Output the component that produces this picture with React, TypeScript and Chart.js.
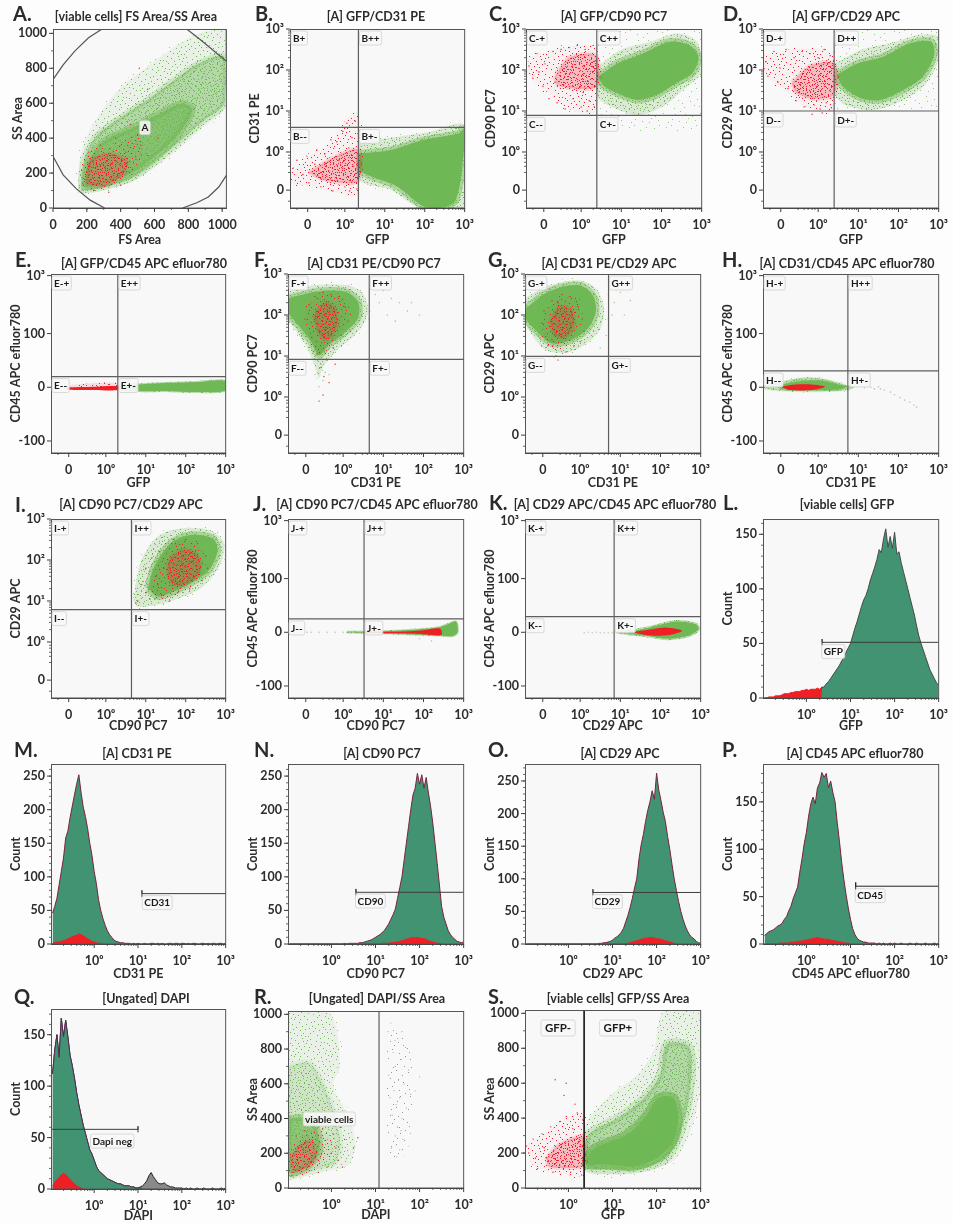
import React, { useEffect, useRef } from "react";
import { Chart, registerables } from "chart.js";
Chart.register(...registerables);

type Pt = number[];
// ---------- Histogram bins (log10 of fluorescence) ----------
const BINS = [-0.95,-0.9,-0.85,-0.8,-0.75,-0.7,-0.65,-0.6,-0.55,-0.5,-0.45,-0.4,-0.35,-0.3,-0.25,-0.2,-0.15,-0.1,-0.05,0,0.05,0.1,0.15,0.2,0.25,0.3,0.35,0.4,0.45,0.5,0.55,0.6,0.65,0.7,0.75,0.8,0.85,0.9,0.95,1,1.05,1.1,1.15,1.2,1.25,1.3,1.35,1.4,1.45,1.5,1.55,1.6,1.65,1.7,1.75,1.8,1.85,1.9,1.95,2,2.05,2.1,2.15,2.2,2.25,2.3,2.35,2.4,2.45,2.5,2.55,2.6,2.65,2.7,2.75,2.8,2.85,2.9,2.95,3];
const L_GREEN = [0,0,0,0,0,0,0,0,0,0,0,0,0,0,0,0,0,0,0,0,0,0,0,0,0,0,10,10,13,15,18,21,24,27,30,34,37,42,46,50,57,64,70,77,84,90,94,100,108,114,120,127,136,133,146,155,138,148,137,152,132,134,124,116,108,100,92,84,76,66,57,50,44,38,32,26,22,18,14,12];
const L_RED = [0,0,1,1,1,2,2,2,3,4,4,4,5,5,6,6,6,7,7,8,7,8,8,8,9,8,10];
const M_GREEN = [46,56,68,88,108,128,158,168,188,205,222,238,252,226,204,190,172,150,132,108,90,66,50,38,28,20,14,10,6,4,3,2,2,1,1,1,0,1,0,1,0,0,1,0,0,1,1,0,1,0,1,0,0,1,1,0,1,1,0,1,1,0,1,0,1,1,0,0,1,1,0,1,0,1,1,0,1,1,0,1];
const M_RED = [1,2,3,3,4,5,6,8,9,11,12,13,15,14,12,10,8,6,4,3,2,1,1,0];
const N_GREEN = [0,0,0,0,0,0,0,0,0,0,0,0,0,0,0,0,0,0,0,0,0,0,0,0,0,1,0,1,1,1,1,1,2,2,3,4,5,6,8,10,12,14,17,20,25,30,37,44,52,68,84,100,125,150,175,200,222,232,254,238,252,232,248,225,205,180,150,120,88,56,40,30,20,14,10,7,4,3,2,3];
const N_RED = [0,0,0,0,0,0,0,0,0,0,0,0,0,0,0,0,0,0,0,0,0,0,0,0,0,0,0,0,0,0,0,0,0,0,0,0,0,0,0,0,0,0,1,1,1,1,2,2,3,3,4,5,6,7,8,9,10,9,10,9,8,8,7,5,4,3,2,1,1,0];
const O_GREEN = [0,0,0,0,0,0,0,0,0,0,0,0,0,0,0,0,0,0,0,0,0,0,0,0,0,0,0,0,0,0,0,0,0,1,1,2,2,3,4,6,9,11,14,18,24,34,44,56,70,86,100,130,152,168,188,205,218,235,222,262,236,220,202,188,165,145,122,100,82,65,50,38,28,20,14,10,8,4,2,1];
const O_RED = [0,0,0,0,0,0,0,0,0,0,0,0,0,0,0,0,0,0,0,0,0,0,0,0,0,0,0,0,0,0,0,0,0,0,0,0,0,0,0,0,0,0,0,0,0,1,1,2,3,4,5,6,7,8,9,9,10,10,9,8,8,7,6,5,4,3,2,1,0];
const P_GREEN = [9,11,13,14,15,17,19,20,22,26,29,35,40,48,54,60,76,90,106,118,135,148,155,148,165,170,181,176,180,165,172,160,150,128,108,86,68,52,38,26,16,10,6,4,3,2,2,1,1,1,1,0,1,0,1,0,0,1,0,1,0,0,1,0,0,0,1,0,0,1,0,0,0,1,0,0,0,1,0,1];
const P_RED = [0,0,0,0,0,0,0,1,1,1,1,1,2,2,2,3,3,3,4,4,5,5,6,6,7,6,6,5,5,5,4,4,3,3,2,2,1,1,1,0];
const Q_TOTAL = [112,135,150,128,166,148,164,148,130,120,108,94,82,72,62,54,46,38,34,28,22,18,16,14,12,10,9,8,7,6,5,5,4,3,3,3,2,2,1,1,2,3,5,8,13,16,12,9,6,5,5,6,4,3,2,2,1,1,1,1,0,1,0,1,0,0,1,0,0,1,0,0,0,1,0,0,0,1,0,1];
const Q_GREEN = [112,135,150,128,166,148,164,148,130,120,108,94,82,72,62,54,46,38,34,28,22,18,16,14,12,10,9,8,7,6,5,5,4,3,3,3,2,2,1,1,1,0];
const Q_RED = [3,6,9,11,14,15,14,12,9,7,5,3,2,1,0];

// ---------- Population outlines ----------
const A_GATE_TL: Pt[] = [[0,735],[60,820],[130,900],[210,975],[290,1025]];
const A_GATE_TR: Pt[] = [[790,1025],[870,965],[950,900],[1025,840]];
const A_GATE_BL: Pt[] = [[0,296],[60,190],[137,111],[220,45],[305,0]];
const A_GATE_BR: Pt[] = [[766,0],[850,30],[918,63],[980,120],[1025,187]];
const A_EDGE: Pt[] = [[1023,1025],[1023,840]];
const A_OUTER: Pt[] = [[147,82],[270,97],[461,149],[594,226],[747,340],[880,455],[1025,589],[1025,1025],[861,1000],[690,904],[518,780],[404,694],[270,532],[198,407],[156,273]];
const A_MID: Pt[] = [[166,98],[270,111],[461,168],[594,254],[747,379],[880,493],[1013,598],[1013,866],[861,828],[728,742],[556,618],[404,522],[270,426],[204,331],[171,216]];
const A_CORE: Pt[] = [[185,120],[270,130],[461,197],[594,289],[728,407],[823,560],[766,598],[632,541],[461,455],[309,388],[213,273]];
const A_RED_OUTER: Pt[] = [[175,130],[290,115],[420,170],[530,300],[500,430],[380,360],[250,330],[180,240]];
const A_RED_DENSE: Pt[] = [[195,140],[300,125],[420,200],[440,270],[330,310],[220,270]];
const A_RED_POINTS: Pt[] = [[180,130],[210,320],[240,100],[280,360],[330,90],[370,400],[400,130],[430,320],[470,220],[500,420],[520,360],[560,300],[460,480],[560,680],[510,800],[620,400],[350,250],[260,240],[300,150],[490,280],[540,440],[410,240]];

const B_OUTER: Pt[] = [[.36,.25],[1.317,.374],[2.13,.496],[3,.65],[3,-1.37],[1.886,-1.37],[1.154,-.93],[.36,-.68]];
const B_CORE: Pt[] = [[.382,-.033],[1.154,.05],[1.967,.29],[2.86,.455],[3,.58],[3,.2],[2.78,-1.17],[2.374,-1.37],[1.967,-1.33],[1.317,-.846],[.667,-.6],[.382,-.44]];
const B_RED_OUTER: Pt[] = [[-1.37,-.55],[-.9,-.1],[-.4,.2],[0,.75],[.34,.95],[.34,-1],[-.2,-1],[-.8,-.85],[-1.37,-.75]];
const B_RED_DENSE: Pt[] = [[-.9,-.5],[-.5,-.25],[-.1,-.05],[.34,.05],[.34,-.7],[-.1,-.75],[-.6,-.65]];
const B_RED_POINTS: Pt[] = [[-1.3,-.4],[-1.2,-.2],[-1.05,-.55],[-.95,-.1],[-.9,-.75],[-.75,-.3],[-.7,.05],[-.6,-.85],[-.5,-.05],[-.45,-.6],[-.35,.3],[-.3,-.95],[-.2,.25],[-.15,-.2],[-.05,.5],[0,-.85],[.05,.7],[.1,.1],[.12,-.95],[.18,.35],[.22,-.35],[.26,.75],[.3,-.9],[.33,.45],[-1.36,-.3],[-1.36,-.5]];

const C_TRACE: Pt[] = [[.39,3],[3,3],[3,.55],[1.5,.45],[.39,.6]];
const C_OUTER: Pt[] = [[.41,2.08],[.98,2.49],[1.72,2.69],[2.37,2.89],[2.85,2.73],[3,2.33],[3,1.92],[2.53,1.51],[2.04,1.11],[1.39,.9],[.74,1.11],[.41,1.35]];
const C_CORE: Pt[] = [[.43,1.84],[.9,2.16],[1.55,2.41],[2.2,2.69],[2.69,2.61],[2.92,2.33],[2.77,1.92],[2.37,1.68],[1.88,1.39],[1.39,1.27],[.9,1.43],[.54,1.63]];
const C_RED_OUTER: Pt[] = [[-1.3,2.3],[-.7,2.5],[0,2.6],[.37,2.55],[.37,1],[-.3,1.05],[-.9,1.5],[-1.3,1.9]];
const C_RED_DENSE: Pt[] = [[-.65,1.85],[-.3,2.3],[.37,2.35],[.37,1.6],[-.2,1.55],[-.6,1.65]];
const C_RED_POINTS: Pt[] = [[-1.3,2.1],[-1.2,1.8],[-1.1,2.4],[-.95,1.6],[-.9,2.15],[-.8,1.3],[-.7,2.45],[-.6,1.2],[-.5,2.5],[-.4,1.05],[-.3,2.55],[-.2,1.3],[-.1,2.6],[0,1.1],[.05,1.45],[.1,2.5],[.15,1],[.2,1.25],[.3,2.6],[.33,1.1],[-1.05,1.95],[-.65,1.7],[-.2,1.6],[-1.36,1.95],[-1.36,2.2]];

const D_TRACE: Pt[] = [[.4,3],[3,3],[3,1],[.4,1]];
const D_OUTER: Pt[] = [[.41,2.16],[1.07,2.49],[1.8,2.65],[2.45,2.85],[2.98,2.81],[3,2.24],[2.61,1.59],[1.96,1.19],[1.31,1.02],[.66,1.15],[.41,1.43]];
const D_CORE: Pt[] = [[.455,1.88],[.98,2.16],[1.63,2.33],[2.28,2.65],[2.81,2.69],[2.89,2.37],[2.61,1.84],[2.12,1.51],[1.55,1.27],[1.07,1.31],[.62,1.59]];
const D_RED_OUTER: Pt[] = [[-1.35,2.3],[-.7,2.5],[.39,2.4],[.39,1.05],[-.2,1.05],[-.7,1.4],[-1.3,1.9]];
const D_RED_DENSE: Pt[] = [[-.65,1.7],[-.2,2.1],[.39,2.15],[.39,1.4],[-.1,1.3],[-.55,1.45]];
const D_RED_POINTS: Pt[] = [[-1.3,2.2],[-1.25,1.85],[-1.1,2.45],[-1,1.7],[-.95,2.05],[-.8,2.5],[-.75,1.55],[-.6,2.3],[-.55,1.25],[-.4,2.45],[-.35,1.1],[-.2,2.4],[-.1,1.15],[0,2.3],[.05,1.05],[.15,2.5],[.2,1.2],[.3,2.35],[.33,1.08],[.1,.95],[-1.36,2.35],[-1.36,2],[-.15,.92]];

const E_PALE: Pt[] = [[.3,.03],[.7,.06],[.7,-.07],[.3,-.04]];
const E_CORE: Pt[] = [[.7,.05],[1.5,.08],[2.3,.1],[3,.12],[3,-.06],[2.3,-.09],[1.5,-.07],[.7,-.06]];
const E_RED_PINK: Pt[] = [[-.9,.04],[-.3,.08],[.3,.08],[.3,0],[-.9,0]];
const E_RED: Pt[] = [[-.98,0],[-.3,.01],[.3,.02],[.3,-.05],[-.3,-.05],[-.98,-.04]];

const F_OUTER: Pt[] = [[-1.37,2.57],[-.68,2.73],[.05,2.73],[.455,2.57],[.62,2.16],[.5,1.76],[.21,1.43],[-.2,1.1],[-.52,.7],[-.6,.455],[-.72,.78],[-.89,1.19],[-1.17,1.59],[-1.37,1.92]];
const F_CORE: Pt[] = [[-1.37,2.41],[-.68,2.57],[.05,2.57],[.37,2.33],[.37,1.92],[-.03,1.51],[-.36,1.27],[-.6,1.02],[-.8,1.35],[-1.09,1.72],[-1.37,2.08]];
const F_RED_OUTER: Pt[] = [[-.95,2.2],[-.5,2.5],[-.05,2.4],[.13,1.95],[-.2,1.4],[-.55,1],[-.72,1.2],[-.9,1.7]];
const F_RED_DENSE: Pt[] = [[-.72,2],[-.45,2.3],[-.2,2.15],[-.15,1.75],[-.4,1.4],[-.6,1.55]];
const F_RED_POINTS: Pt[] = [[-.95,1.9],[-.85,2.25],[-.78,1.45],[-.7,2.45],[-.65,1.05],[-.55,.72],[-.5,2.55],[-.48,.5],[-.4,.9],[-.3,2.5],[-.25,1.2],[-.1,2.45],[-.05,1.5],[.05,2.2],[.12,1.85],[.18,1.6],[-.35,.35],[-.6,-.1],[-.5,.05],[-.2,.8]];
const F_FAINT: Pt[] = [[.8,2.5],[.9,2.3],[1,2.6],[1.2,2.4],[1.4,2.3],[1.6,2.1],[1.7,2.3],[1.9,2],[1.1,2],[1.3,1.85],[-.5,.4],[-.6,.25],[-.45,.6],[-.7,.55],[-.35,.55],[-.55,.8]];

const G_OUTER: Pt[] = [[-1.37,2.41],[-.87,2.69],[-.06,2.85],[.35,2.69],[.59,2.24],[.51,1.67],[.11,1.27],[-.38,1.07],[-.87,1.15],[-1.2,1.51],[-1.37,1.84]];
const G_CORE: Pt[] = [[-1.36,2.16],[-.79,2.57],[-.06,2.73],[.31,2.49],[.39,2.08],[.19,1.67],[-.22,1.39],[-.71,1.31],[-1.11,1.63],[-1.36,1.92]];
const G_RED_OUTER: Pt[] = [[-.9,2],[-.5,2.4],[-.1,2.4],[0,1.9],[-.2,1.4],[-.5,1.1],[-.8,1.3],[-.95,1.7]];
const G_RED_DENSE: Pt[] = [[-.75,1.85],[-.5,2.2],[-.2,2.1],[-.18,1.7],[-.4,1.45],[-.65,1.55]];
const G_RED_POINTS: Pt[] = [[-.95,1.8],[-.9,2.1],[-.8,1.25],[-.7,2.35],[-.6,1],[-.55,.9],[-.45,2.5],[-.35,1.1],[-.25,2.45],[-.15,1.25],[-.05,2.2],[.05,1.9],[.1,1.6],[-.65,.98],[-.3,1.55],[-.7,1.4],[0,1.35],[-.55,2.3]];
const G_FAINT: Pt[] = [[.7,2.5],[.85,2.3],[1,2.55],[1.1,2],[1.25,2.35],[.7,1.9],[.8,2],[.65,1.5],[.5,1.2]];

const H_OUTER: Pt[] = [[-1.37,.01],[-.97,.09],[-.48,.17],[.01,.17],[.49,.09],[.74,.03],[.9,.01],[.74,-.05],[.25,-.075],[-.56,-.075],[-1.13,-.05],[-1.37,-.02]];
const H_CORE: Pt[] = [[-1,.02],[-.7,.08],[-.3,.12],[.1,.12],[.5,.05],[.7,.01],[.5,-.04],[-.3,-.05],[-.9,-.03]];
const H_RED: Pt[] = [[-.92,.01],[-.56,.05],[-.15,.05],[.17,.01],[-.15,-.05],[-.72,-.05]];
const H_TAIL: Pt[] = [[.95,.02],[1.07,.03],[1.15,-.01],[1.25,.02],[1.31,0],[1.4,-.03],[1.5,.01],[1.55,-.03],[1.65,-.05],[1.8,-.09],[1.9,-.14],[2.04,-.19],[2.15,-.24],[2.28,-.28],[2.38,-.33],[2.45,-.37]];

const I_OUTER: Pt[] = [[.68,1.02],[.89,2],[1.29,2.57],[1.86,2.77],[2.59,2.73],[2.96,2.41],[2.84,1.84],[2.43,1.35],[1.94,1.11],[1.29,.9],[.8,.86]];
const I_CORE: Pt[] = [[1.05,1.31],[1.21,1.84],[1.62,2.41],[2.1,2.61],[2.67,2.53],[2.8,2.24],[2.59,1.76],[2.19,1.47],[1.7,1.23],[1.29,1.11]];
const I_RED_OUTER: Pt[] = [[1.1,1.3],[1.3,1.9],[1.7,2.4],[2.2,2.45],[2.45,2],[2.2,1.5],[1.7,1.1],[1.3,1.05]];
const I_RED_DENSE: Pt[] = [[1.55,1.6],[1.6,2],[1.95,2.25],[2.3,2.1],[2.35,1.7],[2,1.42],[1.7,1.4]];
const I_RED_POINTS: Pt[] = [[.8,1],[.9,1.4],[1,1.2],[1,1.8],[1.1,1.05],[1.15,2.05],[1.25,1.6],[1.35,2.2],[1.4,1.15],[1.5,2.4],[1.6,1],[1.7,2.5],[1.8,1.2],[2,2.5],[2.1,1.3],[2.3,2.4],[2.4,1.5],[2.5,2.1],[2.55,1.8],[1.3,1.4],[1.45,1.8],[.75,.95]];

const J_OUTER: Pt[] = [[.1,.01],[.54,.01],[1.35,.03],[2,.06],[2.41,.1],[2.6,.15],[2.81,.2],[2.85,0],[2.73,-.07],[2.41,-.06],[1.76,-.04],[.54,-.01],[.1,0]];
const J_RED: Pt[] = [[.54,.012],[1.35,.01],[2,.04],[2.41,.07],[2.45,-.05],[2,-.035],[1.35,-.02],[.54,-.01]];
const J_TRACE: Pt[] = [[-.9,0],[-.8,0],[-.6,0],[-.4,0],[-.2,0],[0,0],[.1,0],[.2,0],[.3,0],[1.9,-.12],[2.2,-.16]];

const K_OUTER: Pt[] = [[.92,0],[1.24,.02],[1.73,.09],[2.38,.2],[2.87,.155],[2.95,.06],[2.71,-.06],[2.22,-.12],[1.73,-.075],[1.24,-.03]];
const K_RED: Pt[] = [[1.28,0],[1.73,.05],[2.14,.09],[2.54,.03],[2.22,-.05],[1.73,-.06]];
const K_TRACE: Pt[] = [[.1,-.01],[.2,0],[.3,-.01],[.4,0],[.5,-.01],[.6,-.01],[.7,-.01],[.8,-.01],[.9,-.01],[1,-.02],[1.1,-.02]];

const R_OUTER: Pt[] = [[-.985,1015],[-.04,1006],[.2,700],[.03,594],[.33,441],[.55,268],[.4,134],[-.12,96],[-.79,57],[-.985,48]];
const R_MID: Pt[] = [[-.985,700],[-.5,720],[-.2,600],[.1,400],[.2,250],[.1,150],[-.3,110],[-.8,70],[-.985,70]];
const R_CORE: Pt[] = [[-.985,400],[-.56,400],[-.34,345],[-.27,210],[-.49,134],[-.86,86],[-.985,96]];
const R_RED_OUTER: Pt[] = [[-.985,200],[-.7,300],[-.3,340],[0,270],[-.05,180],[-.4,110],[-.85,75],[-.985,90]];
const R_RED_DENSE: Pt[] = [[-.93,180],[-.7,250],[-.45,270],[-.35,200],[-.5,125],[-.85,100]];
const R_RED_POINTS: Pt[] = [[-.9,70],[-.8,300],[-.6,330],[-.5,100],[-.3,90],[-.2,340],[-.1,120],[.05,310],[.1,230],[.15,160],[.2,350],[.3,280],[.25,120],[-.1,390],[.5,230],[.6,290],[-.4,380],[0,200]];
const R_DEAD_OUTLINE: Pt[] = [[1.25,950],[1.75,850],[1.85,500],[1.7,200],[1.35,170],[1.25,500]];
const R_DEAD_POINTS: Pt[] = [[1.28,900],[1.3,650],[1.35,950],[1.38,420],[1.4,780],[1.42,560],[1.45,300],[1.45,700],[1.47,480],[1.5,860],[1.5,350],[1.52,620],[1.55,220],[1.55,520],[1.58,740],[1.6,400],[1.62,280],[1.65,600],[1.68,810],[1.7,460],[1.75,680],[1.8,540],[1.9,560],[2,640],[1.33,520],[1.36,230],[1.44,850],[1.48,180],[1.58,330],[1.6,900]];

const S_OUTER: Pt[] = [[.38,211],[.38,364],[.97,536],[1.49,632],[1.93,785],[2.16,1015],[3,1019],[3,613],[2.82,364],[2.45,172],[2.01,115],[1.34,77],[.67,77],[.38,96]];
const S_MID: Pt[] = [[.38,192],[.45,307],[1.12,402],[1.71,517],[2.08,651],[2.23,824],[2.75,805],[2.75,536],[2.53,307],[2.23,172],[1.71,115],[.97,105],[.45,115]];
const S_CORE: Pt[] = [[.415,172],[.6,230],[1.34,307],[1.79,421],[2.05,517],[2.38,517],[2.49,402],[2.38,268],[2.01,172],[1.49,125],[.82,134],[.415,134]];
const S_RED_OUTER: Pt[] = [[-.95,250],[-.5,320],[-.1,400],[.34,420],[.34,80],[-.3,85],[-.8,130]];
const S_RED_DENSE: Pt[] = [[-.5,170],[-.2,250],[.34,290],[.34,130],[-.1,115],[-.45,125]];
const S_RED_POINTS: Pt[] = [[-.95,240],[-.9,200],[-.8,280],[-.75,170],[-.7,110],[-.6,310],[-.55,230],[-.4,350],[-.35,90],[-.2,380],[-.2,130],[-.05,410],[.05,90],[.1,340],[.2,430],[.3,75],[.32,390],[-.1,530],[-.05,600],[-.3,620],[.15,480]];

// ---------- Axis tick tables ----------
const BIEXP_TICKS = [-0.93, 0, 1, 2, 3];
const BIEXP_LABELS = ["0", "10⁰", "10¹", "10²", "10³"];
const HIST_TICKS = [0, 1, 2, 3];
const HIST_LABELS = ["10⁰", "10¹", "10²", "10³"];
const CD45_TICKS = [-1, 0, 1, 2.08];
const CD45_LABELS = ["-100", "0", "100", "10³"];
const LINEAR_TICKS = [0, 200, 400, 600, 800, 1000];
const LINEAR_LABELS = ["0", "200", "400", "600", "800", "1000"];
const COUNT_50_TICKS = [0, 50, 100, 150, 200, 250];
const COUNT_50_LABELS = ["0", "50", "100", "150", "200", "250"];
const COUNT_SHORT_TICKS = [0, 50, 100, 150];
const COUNT_SHORT_LABELS = ["0", "50", "100", "150"];

// ---------- Styles ----------
const FONT = 'Lato, Carlito, "Open Sans", sans-serif';
const TEXT = "#2d2d2d";
const GREEN = "#6fb856";
const HIST_GREEN = "#419372";
const RED = "#ee2026";
const STIPPLE = [[2,3],[19,1],[31,6],[11,9],[25,12],[5,17],[35,15],[16,20],[28,23],[8,27],[21,30],[33,32],[13,35],[1,33],[24,4],[7,12],[30,18],[17,27],[36,26],[4,23],[14,4],[27,8],[10,15],[22,17],[34,10],[6,31],[18,11],[29,28],[12,24],[23,34],[0,8],[32,1],[9,2],[20,22],[26,31],[15,14],[3,28],[35,21],[11,30],[28,15],[17,6],[6,6],[23,25],[31,25],[14,32],[1,13],[20,36],[33,18],[8,20],[25,1],[12,18],[29,35],[18,33],[36,4],[5,36],[21,9],[27,20],[9,24],[16,0],[30,11],[3,10],[24,28],[13,11],[34,29],[7,34],[19,15],[26,17],[10,6],[32,22],[15,25]];
const SHIFTS = [[0, 0], [13, 7], [5, 22], [24, 15], [9, 30]];

function stipple(rgb: string, tint: number, count: number, passes: number) {
  const c = document.createElement("canvas");
  c.width = c.height = 37;
  const g = c.getContext("2d")!;
  if (tint > 0) { g.fillStyle = `rgba(${rgb},${tint})`; g.fillRect(0, 0, 37, 37); }
  g.fillStyle = `rgb(${rgb})`;
  SHIFTS.slice(0, passes).forEach(([sx, sy]) =>
    STIPPLE.slice(0, count).forEach(([x, y]) => g.fillRect((x + sx) % 37, (y + sy) % 37, 1, 1)));
  return g.createPattern(c, "repeat")!;
}

type Fills = Record<string, any>;
const poly = (p: Pt[], fill: any, tension = 0.3, edge = 0, edgeFill: any = "transparent") => ({ kind: "poly", p: [...p, p[0]], fill, tension, edge, edgeFill });
const dots = (p: Pt[], color: string, r = 0.7) => ({ kind: "dots", p, color, r });
const line = (p: Pt[], color: string, w = 1.2) => ({ kind: "line", p, color, w });
const hist = (v: number[], fill: string, border: string) => ({ kind: "hist", v, fill, border });
const gateLine = (x1: number, x2: number, y: number, cap: number) => [[x1, y - cap], [x1, y + cap], [x1, y], [x2, y]];

const XB = { min: -1.373, max: 3, ticks: BIEXP_TICKS, labels: BIEXP_LABELS, minor: "biexp" };
const YB = { min: -1.366, max: 3, ticks: BIEXP_TICKS, labels: BIEXP_LABELS, minor: "biexp" };
const XH = { min: -0.985, max: 3, ticks: HIST_TICKS, labels: HIST_LABELS, minor: "log" };
const YE = { min: -1.224, max: 2.11, ticks: CD45_TICKS, labels: CD45_LABELS, minor: "" };
const LIN = { min: 0, max: 1025, ticks: LINEAR_TICKS, labels: LINEAR_LABELS, minor: "100" };
const LINY = { min: 0, max: 1019, ticks: LINEAR_TICKS, labels: LINEAR_LABELS, minor: "100" };
const cnt = (max: number, t: number[], l: string[]) => ({ min: 0, max, ticks: t, labels: l, minor: "10" });

function panels(f: Fills) {
  const G = (o: Pt[], c: Pt[]) => [poly(o, f.gMed, .3, 5, f.gTrace), poly(c, f.gCore, .3, 7, f.gDense)];
  const Rd = (o: Pt[], d: Pt[], pts: Pt[]) => [poly(o, f.rSparse, .3, 5, f.rTrace), poly(d, f.rDense, .3, 4, f.rMed), dots(pts, RED)];
  const Gq = (x: number, y: number) => [line([[x, -5], [x, 5000]], "#5e5e5e", 1.2), line([[-5, y], [5000, y]], "#5e5e5e", 1.2)];
  return [
    { letter: "A.", lx: 13, ly: 15, title: "[viable cells] FS Area/SS Area", tc: 136, ty: 17, rect: [53, 29, 232, 208], x: LIN, y: LIN, xl: "FS Area", yl: "SS Area", xp: 3,
      layers: [poly(A_OUTER, f.gSparse, .3, 5, f.gTrace), poly(A_MID, f.gDense, .3, 6, f.gMed), poly(A_CORE, f.gMid, .3, 7, f.gDense), poly(A_RED_OUTER, f.rSparse, .3, 5, f.rTrace), poly(A_RED_DENSE, f.rDense, .3, 4, f.rMed), dots(A_RED_POINTS, RED), line(A_EDGE, "#8fd07c", 1.5), line(A_GATE_TL, "#555", 1.2), line(A_GATE_TR, "#555", 1.2), line(A_GATE_BL, "#555", 1.2), line(A_GATE_BR, "#555", 1.2)],
      boxes: [{ text: "A", x: 517, y: 460 }] },
    { letter: "B.", lx: 255, ly: 15, title: "[A] GFP/CD31 PE", tc: 376, ty: 17, rect: [290, 29, 469, 208], x: XB, y: YB, xl: "GFP", yl: "CD31 PE", xp: 3, q: [.34, .6, "B+", "B++", "B--", "B+-"],
      layers: [...G(B_OUTER, B_CORE), ...Rd(B_RED_OUTER, B_RED_DENSE, B_RED_POINTS)] },
    { letter: "C.", lx: 489, ly: 15, title: "[A] GFP/CD90 PC7", tc: 614, ty: 17, rect: [526, 29, 706, 208], x: XB, y: YB, xl: "GFP", yl: "CD90 PC7", xp: 3, q: [.39, .894, "C-+", "C++", "C--", "C+-"],
      layers: [poly(C_TRACE, f.gTrace, 0), ...G(C_OUTER, C_CORE), ...Rd(C_RED_OUTER, C_RED_DENSE, C_RED_POINTS)] },
    { letter: "D.", lx: 723, ly: 15, title: "[A] GFP/CD29 APC", tc: 846, ty: 17, rect: [763, 29, 943, 208], x: XB, y: YB, xl: "GFP", yl: "CD29 APC", xp: 3, q: [.398, 1, "D-+", "D++", "D--", "D+-"],
      layers: [poly(D_TRACE, f.gTrace, 0), ...G(D_OUTER, D_CORE), ...Rd(D_RED_OUTER, D_RED_DENSE, D_RED_POINTS)] },
    { letter: "E.", lx: 15, ly: 261, title: "[A] GFP/CD45 APC efluor780", tc: 144, ty: 264, rect: [51, 274, 230, 453], x: XB, y: YE, xl: "GFP", yl: "CD45 APC efluor780", xp: 5, q: [.3, .2, "E-+", "E++", "E--", "E+-"],
      layers: [poly(E_PALE, f.gDense), poly(E_CORE, f.gCore, .3, 2, f.gDense), poly(E_RED_PINK, f.rMed), poly(E_RED, RED)] },
    { letter: "F.", lx: 254, ly: 261, title: "[A] CD31 PE/CD90 PC7", tc: 374, ty: 264, rect: [288, 274, 468, 453], x: XB, y: YB, xl: "CD31 PE", yl: "CD90 PC7", xp: 5, q: [.65, .92, "F-+", "F++", "F--", "F+-"],
      layers: [dots(F_FAINT, "#a8d09a", .8), ...G(F_OUTER, F_CORE), ...Rd(F_RED_OUTER, F_RED_DENSE, F_RED_POINTS)] },
    { letter: "G.", lx: 488, ly: 261, title: "[A] CD31 PE/CD29 APC", tc: 609, ty: 264, rect: [525, 274, 705, 453], x: XB, y: YB, xl: "CD31 PE", yl: "CD29 APC", xp: 5, q: [.707, .99, "G-+", "G++", "G--", "G+-"],
      layers: [dots(G_FAINT, "#a8d09a", .8), ...G(G_OUTER, G_CORE), ...Rd(G_RED_OUTER, G_RED_DENSE, G_RED_POINTS)] },
    { letter: "H.", lx: 722, ly: 261, title: "[A] CD31/CD45 APC efluor780", tc: 847, ty: 264, rect: [763, 274, 943, 453], x: XB, y: YE, xl: "CD31 PE", yl: "CD45 APC efluor780", xp: 5, q: [.74, .304, "H-+", "H++", "H--", "H+-"],
      layers: [dots(H_TAIL, "#b5c9ae", .8), poly(H_OUTER, f.gDense, .3, 2, f.gSparse), poly(H_CORE, f.gCore, .3, 2, f.gDense), poly(H_RED, RED)] },
    { letter: "I.", lx: 15, ly: 506, title: "[A] CD90 PC7/CD29 APC", tc: 131, ty: 505, rect: [51, 519, 230, 698], x: XB, y: YB, xl: "CD90 PC7", yl: "CD29 APC", xp: 7, q: [.642, .79, "I-+", "I++", "I--", "I+-"],
      layers: [...G(I_OUTER, I_CORE), ...Rd(I_RED_OUTER, I_RED_DENSE, I_RED_POINTS)] },
    { letter: "J.", lx: 253, ly: 505, title: "[A] CD90 PC7/CD45 APC efluor780", tc: 377, ty: 505, rect: [288, 519, 468, 698], x: XB, y: YE, xl: "CD90 PC7", yl: "CD45 APC efluor780", xp: 7, q: [.52, .248, "J-+", "J++", "J--", "J+-"],
      layers: [dots(J_TRACE, "#b8c8a8", .8), poly(J_OUTER, f.gCore, .3, 2, f.gDense), poly(J_RED, RED)] },
    { letter: "K.", lx: 489, ly: 504, title: "[A] CD29 APC/CD45 APC efluor780", tc: 615, ty: 505, rect: [525, 519, 705, 698], x: XB, y: YE, xl: "CD29 APC", yl: "CD45 APC efluor780", xp: 7, q: [.846, .29, "K-+", "K++", "K--", "K+-"],
      layers: [dots(K_TRACE, "#c4cdb8", .8), poly(K_OUTER, f.gCore, .3, 3, f.gDense), poly(K_RED, RED)] },
    { letter: "L.", lx: 723, ly: 504, title: "[viable cells] GFP", tc: 847, ty: 505, rect: [763, 519, 943, 698], x: XH, y: cnt(164, COUNT_SHORT_TICKS, COUNT_SHORT_LABELS), xl: "GFP", yl: "Count", xp: 7,
      layers: [hist(L_GREEN, HIST_GREEN, "#4a4a4a"), hist(L_RED, RED, RED), line(gateLine(.356, 3, 51, 3), "#3d3d3d", 1)], boxes: [{ text: "GFP", x: .37, y: 42.5 }] },
    { letter: "M.", lx: 14, ly: 751, title: "[A] CD31 PE", tc: 137, ty: 754, rect: [51, 764, 230, 944], x: XH, y: cnt(268, COUNT_50_TICKS, COUNT_50_LABELS), xl: "CD31 PE", yl: "Count", xp: 5,
      layers: [hist(M_GREEN, HIST_GREEN, "#7a2340"), hist(M_RED, RED, RED), line(gateLine(1.09, 3, 75, 5), "#3d3d3d", 1)], boxes: [{ text: "CD31", x: 1.12, y: 61.5 }] },
    { letter: "N.", lx: 254, ly: 751, title: "[A] CD90 PC7", tc: 382, ty: 754, rect: [288, 764, 468, 944], x: XH, y: cnt(268, COUNT_50_TICKS, COUNT_50_LABELS), xl: "CD90 PC7", yl: "Count", xp: 5,
      layers: [hist(N_GREEN, HIST_GREEN, "#7a2340"), hist(N_RED, RED, RED), line(gateLine(.556, 3, 77, 5), "#3d3d3d", 1)], boxes: [{ text: "CD90", x: .57, y: 64 }] },
    { letter: "O.", lx: 488, ly: 751, title: "[A] CD29 APC", tc: 620, ty: 754, rect: [525, 764, 705, 944], x: XH, y: cnt(276, COUNT_50_TICKS, COUNT_50_LABELS), xl: "CD29 APC", yl: "Count", xp: 5,
      layers: [hist(O_GREEN, HIST_GREEN, "#7a2340"), hist(O_RED, RED, RED), line(gateLine(.556, 3, 79, 5), "#3d3d3d", 1)], boxes: [{ text: "CD29", x: .57, y: 65 }] },
    { letter: "P.", lx: 722, ly: 751, title: "[A] CD45 APC efluor780", tc: 855, ty: 754, rect: [763, 764, 943, 944], x: XH, y: cnt(190, COUNT_SHORT_TICKS, COUNT_SHORT_LABELS), xl: "CD45 APC efluor780", yl: "Count", xp: 5,
      layers: [hist(P_GREEN, HIST_GREEN, "#7a2340"), hist(P_RED, RED, RED), line(gateLine(1.118, 3, 61, 4), "#222", 1)], boxes: [{ text: "CD45", x: 1.13, y: 51 }] },
    { letter: "Q.", lx: 14, ly: 998, title: "[Ungated] DAPI", tc: 146, ty: 999, rect: [51, 1009, 230, 1189], x: XH, y: cnt(175, COUNT_SHORT_TICKS, COUNT_SHORT_LABELS), xl: "DAPI", yl: "Count", xp: 8,
      layers: [hist(Q_TOTAL, "#8a8a8a", "#222"), hist(Q_GREEN, HIST_GREEN, "#5a2a55"), hist(Q_RED, RED, RED), line(gateLine(1, -2, 58, 3), "#3d3d3d", 1)], boxes: [{ text: "Dapi neg", x: -.06, y: 46.6 }] },
    { letter: "R.", lx: 254, ly: 998, title: "[Ungated] DAPI/SS Area", tc: 377, ty: 999, rect: [288, 1011, 468, 1188], x: XH, y: LINY, xl: "DAPI", yl: "SS Area", xp: 8,
      layers: [poly(R_DEAD_OUTLINE, f.kSparse), dots(R_DEAD_POINTS, "#a8a8a8", .6), poly(R_OUTER, f.gSparse, .3, 6, f.gTrace), poly(R_MID, f.gMed, .3, 6, f.gSparse), poly(R_CORE, f.gMid, .3, 7, f.gDense), ...Rd(R_RED_OUTER, R_RED_DENSE, R_RED_POINTS), line([[1.08, -50], [1.08, 2000]], "#5e5e5e", 1.2)],
      boxes: [{ text: "viable cells", x: -.62, y: 397 }] },
    { letter: "S.", lx: 488, ly: 998, title: "[viable cells] GFP/SS Area", tc: 618, ty: 999, rect: [525, 1010, 705, 1188], x: XH, y: LINY, xl: "GFP", yl: "SS Area", xp: 8,
      layers: [poly(S_OUTER, f.gSparse, .3, 6, f.gTrace), poly(S_MID, f.gDense, .3, 8, f.gMed), poly(S_CORE, f.gCore, .3, 9, f.gMid), ...Rd(S_RED_OUTER, S_RED_DENSE, S_RED_POINTS), line([[.356, -50], [.356, 2000]], "#111", 1.6)],
      boxes: [{ text: "GFP-", x: -.6, y: 916, big: true }, { text: "GFP+", x: .73, y: 916, big: true }] },
  ].map((p: any) => (p.q ? { ...p, layers: [...p.layers, ...Gq(p.q[0], p.q[1])] } : p));
}

function toDataset(l: any, idx: number, n: number) {
  const order = n - idx;
  const xy = (a: Pt[]) => a.map(([x, y]) => ({ x, y }));
  if (l.kind === "poly") return { data: xy(l.p), showLine: true, fill: "shape", backgroundColor: l.fill, borderWidth: l.edge, borderColor: l.edgeFill, pointRadius: 0, tension: l.tension, order };
  if (l.kind === "dots") return { data: xy(l.p), showLine: false, backgroundColor: l.color, borderWidth: 0, pointRadius: l.r, order };
  if (l.kind === "line") return { data: xy(l.p), showLine: true, fill: false, borderColor: l.color, borderWidth: l.w, pointRadius: 0, tension: 0, order };
  return { data: l.v.map((y: number, i: number) => ({ x: BINS[i], y })), showLine: true, fill: "origin", backgroundColor: l.fill, borderColor: l.border, borderWidth: 1, pointRadius: 0, tension: 0, order };
}

function box(ctx: CanvasRenderingContext2D, text: string, x: number, cy: number, big = false) {
  ctx.font = `700 ${big ? 11.5 : 10}px ${FONT}`;
  const w = ctx.measureText(text).width + (big ? 8 : 4);
  const h = big ? 16 : 14;
  ctx.beginPath();
  ctx.roundRect(x - 1, cy - h / 2, w, h, 2);
  ctx.fillStyle = "rgba(247,247,247,0.88)";
  ctx.fill();
  ctx.strokeStyle = "rgba(205,205,205,0.9)";
  ctx.lineWidth = 0.8;
  ctx.stroke();
  ctx.fillStyle = "#1a1a1a";
  ctx.textAlign = "left";
  ctx.textBaseline = "middle";
  ctx.fillText(text, x + (big ? 3 : 1), cy + 0.5);
}

function minorValues(kind: string, min: number, max: number) {
  const out: number[] = [];
  if (kind === "biexp" || kind === "log") {
    [-1, 0, 1, 2].forEach((d) => [2, 3, 4, 5, 6, 7, 8, 9].forEach((k) => {
      const v = d + Math.log10(k);
      if (v > min && v < max && (kind === "log" || d >= 0)) out.push(v);
    }));
    if (kind === "biexp") out.push(-1.2, -.5, -.35, -.25, -.15, -.08);
  } else if (kind === "100" || kind === "10") {
    const step = Number(kind);
    for (let v = step; v < max; v += step) out.push(v);
  }
  return out;
}

function Panel({ cfg }: { cfg: any }) {
  const ref = useRef<HTMLCanvasElement>(null);
  const [l, t, r, b] = cfg.rect;
  const GL = 50, GT = 30, GR = 14, GB = 42;
  const W = r - l + GL + GR, H = b - t + GT + GB;
  useEffect(() => {
    const axis = (a: any, label: string, horizontal: boolean) => ({
      type: "linear", min: a.min, max: a.max,
      grid: { display: false, drawTicks: false },
      border: { display: true, color: "#3f3f3f", width: 1 },
      afterBuildTicks: (s: any) => { s.ticks = a.ticks.map((value: number) => ({ value })); },
      afterFit: (s: any) => { if (horizontal) s.height = GB; else s.width = GL; },
      ticks: {
        autoSkip: false, maxRotation: 0, minRotation: 0, padding: horizontal ? 9 : 6,
        color: TEXT, font: { family: FONT, size: 12.5, weight: "700" },
        callback: (v: number) => { const i = a.ticks.indexOf(v); return i >= 0 ? a.labels[i] : ""; },
      },
      title: { display: true, text: label, color: TEXT, font: { family: FONT, size: 12.5, weight: "700" },
        padding: horizontal ? { top: 0, bottom: cfg.xp } : { top: 7, bottom: 0 } },
    });
    const plugin = {
      id: "flow",
      beforeDatasetsDraw(c: any) {
        const a = c.chartArea, g = c.ctx;
        g.save(); g.fillStyle = "#f8f8f8"; g.fillRect(a.left, a.top, a.right - a.left, a.bottom - a.top); g.restore();
      },
      afterDatasetsDraw(c: any) {
        const a = c.chartArea, g = c.ctx, xs = c.scales.x, ys = c.scales.y;
        g.save();
        g.strokeStyle = "#555"; g.lineWidth = 1;
        g.strokeRect(a.left + .5, a.top + .5, a.right - a.left - .5, a.bottom - a.top - .5);
        g.strokeStyle = "#3f3f3f";
        g.beginPath();
        cfg.x.ticks.forEach((v: number) => { const p = xs.getPixelForValue(v); g.moveTo(p, a.bottom); g.lineTo(p, a.bottom + 4); });
        cfg.y.ticks.forEach((v: number) => { const p = ys.getPixelForValue(v); g.moveTo(a.left, p); g.lineTo(a.left - 4, p); });
        g.stroke();
        g.lineWidth = .8;
        g.beginPath();
        minorValues(cfg.x.minor, cfg.x.min, cfg.x.max).forEach((v) => { const p = xs.getPixelForValue(v); g.moveTo(p, a.bottom); g.lineTo(p, a.bottom + 2); });
        minorValues(cfg.y.minor, cfg.y.min, cfg.y.max).forEach((v) => { const p = ys.getPixelForValue(v); g.moveTo(a.left, p); g.lineTo(a.left - 2, p); });
        g.stroke();
        if (cfg.q) {
          const qx = xs.getPixelForValue(cfg.q[0]), qy = ys.getPixelForValue(cfg.q[1]);
          box(g, cfg.q[2], a.left + 2, a.top + 9);
          box(g, cfg.q[3], qx + 2, a.top + 9);
          box(g, cfg.q[4], a.left + 2, qy + 9);
          box(g, cfg.q[5], qx + 2, qy + 9);
        }
        (cfg.boxes || []).forEach((bx: any) => box(g, bx.text, xs.getPixelForValue(bx.x), ys.getPixelForValue(bx.y), bx.big));
        g.fillStyle = "#2b2b2b";
        g.textBaseline = "middle"; g.textAlign = "center";
        g.font = `700 12.5px ${FONT}`;
        g.fillText(cfg.title, cfg.tc - l + GL, cfg.ty - t + GT);
        g.textAlign = "left";
        g.font = `700 20px ${FONT}`;
        g.fillText(cfg.letter, cfg.lx - l + GL, cfg.ly - t + GT);
        g.restore();
      },
    };
    const n = cfg.layers.length;
    const chart = new Chart(ref.current!, {
      type: "scatter",
      data: { datasets: cfg.layers.map((d: any, i: number) => toDataset(d, i, n)) },
      options: {
        animation: false, responsive: false, devicePixelRatio: 1, events: [],
        layout: { padding: { top: GT, right: GR, left: 0, bottom: 0 } },
        plugins: { legend: { display: false }, tooltip: { enabled: false } },
        scales: { x: axis(cfg.x, cfg.xl, true), y: axis(cfg.y, cfg.yl, false) },
      } as any,
      plugins: [plugin],
    } as any);
    return () => chart.destroy();
  }, [cfg]);
  return <canvas ref={ref} width={W} height={H} style={{ position: "absolute", left: l - GL, top: t - GT, width: W, height: H, filter: "blur(0.4px)" }} />;
}

export default function App() {
  const [list, setList] = React.useState<any[] | null>(null);
  useEffect(() => {
    const f = {
      gTrace: stipple("150,200,130", 0, 30, 1),
      gSparse: stipple("112,184,86", 0.1, 70, 1),
      gMed: stipple("112,184,86", 0.22, 70, 2),
      gDense: stipple("112,184,86", 0.45, 70, 3),
      gMid: stipple("112,184,86", 0.68, 70, 4),
      gCore: GREEN,
      rTrace: stipple("238,32,48", 0, 25, 1),
      rSparse: stipple("238,32,48", 0.04, 70, 1),
      rMed: stipple("238,32,48", 0.12, 70, 2),
      rDense: stipple("238,32,48", 0.25, 70, 4),
      kSparse: stipple("150,150,150", 0, 30, 1),
    };
    setList(panels(f));
  }, []);
  return (
    <div style={{ position: "absolute", left: 0, top: 0, width: 953, height: 1223, background: "#fdfdfd", overflow: "hidden" }}>
      {list && list.map((c) => <Panel key={c.letter} cfg={c} />)}
    </div>
  );
}
